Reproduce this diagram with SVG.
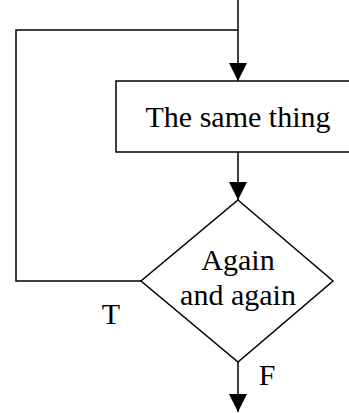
<svg xmlns="http://www.w3.org/2000/svg" width="349" height="413" viewBox="0 0 349 413">
<style>
.ln{fill:none;stroke:#000;stroke-width:1.5}
.sh{fill:#fff;stroke:#000;stroke-width:1.5}
.tx{font-family:"Liberation Serif","Times New Roman",serif;font-size:30px;fill:#000}
</style>
<defs>
<marker id="ah" markerUnits="userSpaceOnUse" markerWidth="18" markerHeight="20" refX="18" refY="9" orient="auto">
<path d="M0,0 L18,9 L0,18 Z" fill="#000"/>
</marker>
</defs>
<g id="connectors">
<path class="ln" d="M238,0 V81" marker-end="url(#ah)"/>
<path class="ln" d="M141,281 H16 V30 H238"/>
<path class="ln" d="M238,152 V200" marker-end="url(#ah)"/>
<path class="ln" d="M238,362 V412" marker-end="url(#ah)"/>
</g>
<g id="process">
<rect class="sh" x="116" y="81" width="240" height="71"/>
<text class="tx" x="238" y="127" text-anchor="middle">The same thing</text>
</g>
<g id="decision">
<polygon class="sh" points="238,200 333,281 238,362 141,281"/>
<text class="tx" x="238" y="270" text-anchor="middle">Again</text>
<text class="tx" x="238" y="305" text-anchor="middle">and again</text>
</g>
<g id="labels">
<text class="tx" x="111" y="324" text-anchor="middle">T</text>
<text class="tx" x="267" y="385" text-anchor="middle">F</text>
</g>
</svg>
